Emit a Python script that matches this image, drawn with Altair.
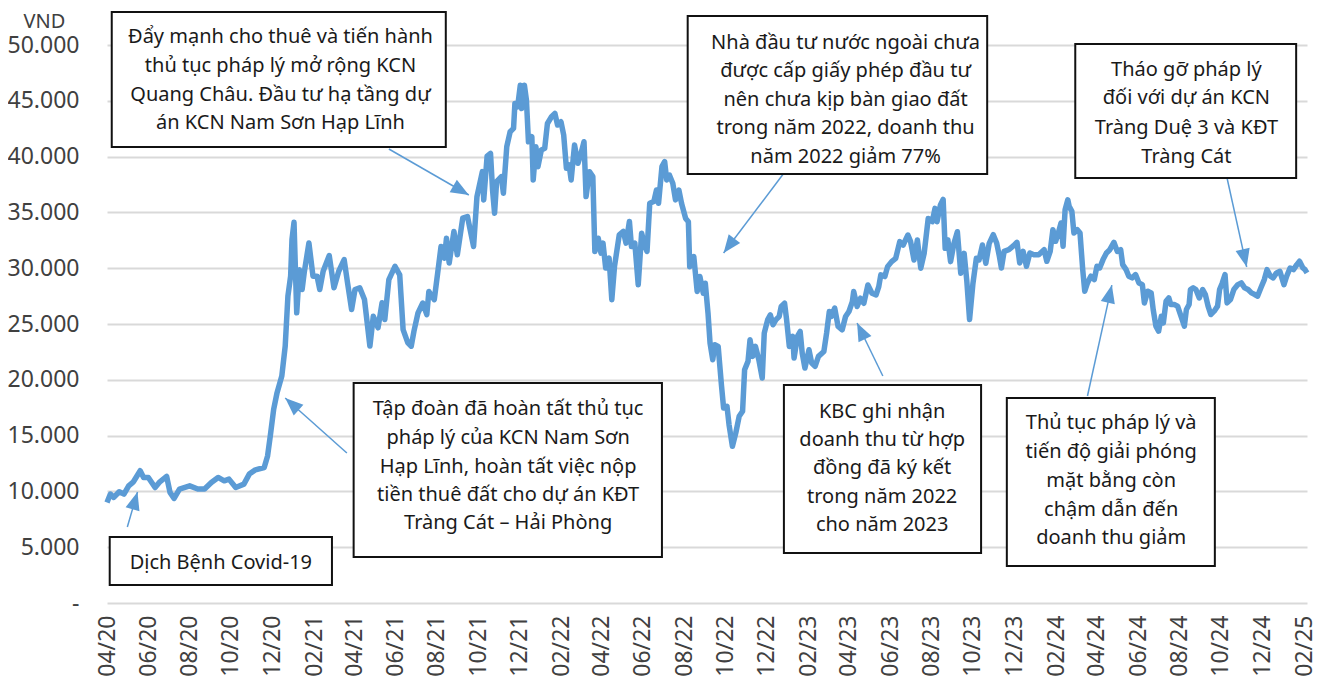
import altair as alt
import pandas as pd

FONT = "Noto Sans"
BLUE = "#5B9BD5"

# ---------------- price series (VND) ----------------
dates = [
 "2020-04-01","2020-04-06","2020-04-11","2020-04-19","2020-04-26","2020-05-03","2020-05-10","2020-05-20",
 "2020-05-25","2020-06-01","2020-06-11","2020-06-18","2020-06-28","2020-07-03","2020-07-09","2020-07-17",
 "2020-08-01","2020-08-13","2020-08-23","2020-09-02","2020-09-12","2020-09-21","2020-09-28","2020-10-08",
 "2020-10-20","2020-10-28","2020-11-06","2020-11-19","2020-11-24","2020-11-28","2020-12-03","2020-12-08",
 "2020-12-15","2020-12-20","2020-12-24","2020-12-28","2020-12-30","2021-01-02","2021-01-06","2021-01-10",
 "2021-01-14","2021-01-17","2021-01-24","2021-01-30","2021-02-05","2021-02-09","2021-02-14","2021-02-23",
 "2021-03-02","2021-03-09","2021-03-17","2021-03-22","2021-03-28","2021-04-02","2021-04-09","2021-04-16",
 "2021-04-24","2021-04-29","2021-05-06","2021-05-12","2021-05-16","2021-05-22","2021-05-31",
 "2021-06-07","2021-06-12","2021-06-19","2021-06-24","2021-06-28","2021-07-04","2021-07-11","2021-07-17",
 "2021-07-20","2021-07-28","2021-08-02","2021-08-07","2021-08-12","2021-08-15","2021-08-19","2021-08-26",
 "2021-08-31","2021-09-08","2021-09-15","2021-09-20","2021-09-24","2021-09-29","2021-10-07","2021-10-09",
 "2021-10-14","2021-10-19","2021-10-22","2021-10-25","2021-10-28","2021-11-04","2021-11-07","2021-11-12",
 "2021-11-17","2021-11-22","2021-11-24","2021-11-28","2021-12-02","2021-12-04","2021-12-08","2021-12-11",
 "2021-12-14","2021-12-19","2021-12-21","2021-12-25","2021-12-28","2022-01-02","2022-01-07","2022-01-11",
 "2022-01-17","2022-01-22","2022-01-26","2022-01-31","2022-02-04","2022-02-08","2022-02-12","2022-02-15",
 "2022-02-20","2022-02-25","2022-03-01","2022-03-06","2022-03-09","2022-03-14","2022-03-19","2022-03-22",
 "2022-03-27","2022-03-31","2022-04-03","2022-04-07","2022-04-12","2022-04-16","2022-04-20","2022-04-27",
 "2022-05-03","2022-05-07","2022-05-12","2022-05-15","2022-05-20","2022-05-25","2022-05-30","2022-06-04",
 "2022-06-07","2022-06-11","2022-06-17","2022-06-21","2022-06-24","2022-06-29","2022-07-03","2022-07-06",
 "2022-07-10","2022-07-15","2022-07-19","2022-07-24","2022-07-28",
 "2022-08-03","2022-08-07","2022-08-09","2022-08-15","2022-08-20","2022-08-24","2022-08-29","2022-09-01",
 "2022-09-05","2022-09-08","2022-09-12","2022-09-15","2022-09-20","2022-09-25","2022-09-28","2022-10-03",
 "2022-10-06","2022-10-11","2022-10-16","2022-10-21","2022-10-26","2022-10-29","2022-11-03","2022-11-06",
 "2022-11-10","2022-11-14","2022-11-19","2022-11-24","2022-11-27","2022-12-02","2022-12-06","2022-12-10",
 "2022-12-14","2022-12-19","2022-12-22","2022-12-27","2022-12-30","2023-01-03","2023-01-08","2023-01-10",
 "2023-01-15","2023-01-19","2023-01-22","2023-01-26","2023-02-01","2023-02-05","2023-02-10","2023-02-15",
 "2023-02-23","2023-02-27","2023-03-03","2023-03-06","2023-03-11","2023-03-16","2023-03-22","2023-03-27",
 "2023-04-01","2023-04-06","2023-04-08","2023-04-13","2023-04-18","2023-04-23","2023-04-29","2023-05-05",
 "2023-05-11","2023-05-15","2023-05-18","2023-05-24","2023-05-28","2023-06-03","2023-06-09","2023-06-15",
 "2023-06-20","2023-06-27","2023-07-01","2023-07-06","2023-07-11","2023-07-16","2023-07-21","2023-07-27",
 "2023-08-02","2023-08-06","2023-08-09","2023-08-14","2023-08-18","2023-08-21","2023-08-25","2023-08-29",
 "2023-09-03","2023-09-08","2023-09-13","2023-09-18","2023-09-22","2023-09-26","2023-10-01","2023-10-06",
 "2023-10-10","2023-10-15","2023-10-20","2023-10-25",
 "2023-10-31","2023-11-05","2023-11-09","2023-11-12","2023-11-16","2023-11-23","2023-11-30","2023-12-05",
 "2023-12-09","2023-12-14","2023-12-19","2023-12-24","2023-12-30","2024-01-06","2024-01-14","2024-01-18",
 "2024-01-23","2024-01-27","2024-01-31","2024-02-04","2024-02-08","2024-02-11","2024-02-14","2024-02-18",
 "2024-02-20","2024-02-24","2024-02-27","2024-03-03","2024-03-07","2024-03-11","2024-03-14","2024-03-18",
 "2024-03-23","2024-03-28","2024-04-01","2024-04-05","2024-04-10","2024-04-15","2024-04-20","2024-04-26",
 "2024-05-01","2024-05-06","2024-05-09","2024-05-14","2024-05-18","2024-05-23","2024-05-28","2024-06-02",
 "2024-06-07","2024-06-10","2024-06-15","2024-06-20","2024-06-23","2024-06-27","2024-07-01","2024-07-05",
 "2024-07-08","2024-07-12","2024-07-16","2024-07-19","2024-07-24","2024-07-29","2024-08-03","2024-08-08",
 "2024-08-11","2024-08-15","2024-08-17","2024-08-21","2024-08-25","2024-08-30","2024-09-04","2024-09-08",
 "2024-09-12","2024-09-16","2024-09-21","2024-09-26","2024-09-29","2024-10-03","2024-10-07","2024-10-10",
 "2024-10-15","2024-10-20","2024-10-26","2024-10-31","2024-11-05","2024-11-10","2024-11-15","2024-11-20",
 "2024-11-24","2024-11-29","2024-12-04","2024-12-08","2024-12-13","2024-12-17","2024-12-22","2024-12-27",
 "2025-01-02","2025-01-06","2025-01-11","2025-01-16","2025-01-21","2025-01-25","2025-01-30","2025-02-02",
 "2025-02-05",
]
prices = [
 9010,9760,9460,9970,9760,10500,10860,11850,
 11250,11250,10350,10860,11340,9910,9370,10210,
 10500,10210,10210,10800,11250,10950,11100,10350,
 10650,11550,11930,12140,13180,14970,17360,18850,
 20340,23020,27490,29280,32560,34110,26000,29870,
 28090,29580,32260,29280,29280,28090,29730,31130,
 28240,29730,30770,28680,26300,28090,28240,27190,
 23020,25700,24660,26900,25400,28980,30170,
 29410,24500,23310,23010,24350,25990,26880,25840,
 27920,27180,29560,31950,30900,32690,30460,33290,
 31200,34480,34630,33140,31950,36420,38650,36120,
 40050,40290,37010,34930,37760,38210,36720,40890,
 42230,42530,44760,44460,46400,44310,46400,45060,
 41330,41780,37910,40890,39100,40590,40740,42970,
 43570,43870,42830,43120,41930,38950,39250,37910,
 41040,39400,40140,41330,36420,38650,38210,31500,
 32690,31350,32250,30010,30900,27180,30160,32990,
 33290,32250,34180,31950,32250,28520,33140,31950,
 31500,35820,35970,37010,35820,39100,39550,37910,
 38350,37610,36120,37000,35800,
 34460,34170,30140,31040,27910,29250,27760,28650,
 25970,23290,21800,23140,22990,19410,17480,17630,
 15990,14050,15240,16730,17180,20900,21650,23590,
 22100,22990,21800,20160,24180,25370,25820,24930,
 25370,25670,26570,26860,25370,22990,23890,21950,
 23890,24330,22400,21050,22690,21500,21200,22100,
 22540,24180,26120,25670,26420,24780,24480,25670,
 26120,27010,27910,26570,27310,26860,28500,27760,
 27610,28350,29400,29250,30140,30590,30890,32380,
 32080,32970,32380,30740,32530,30000,31330,34460,
 34170,35360,34170,35660,36160,31780,32530,30590,
 32230,33270,29550,31330,28800,25400,28650,30890,
 30740,32080,30440,32230,
 33000,32260,31070,30020,31510,31660,32020,32320,
 30470,31510,30170,31360,31210,31210,31660,30620,
 31510,33450,32410,33150,34050,31960,35240,36130,
 35540,35090,33150,33450,33150,29870,27940,28680,
 29280,28980,30170,30020,30770,31360,31660,32320,
 31510,31660,30320,29870,29280,29130,29430,28680,
 28530,26890,27940,27790,26300,24810,24360,25700,
 25100,27040,27340,26750,26750,26600,25700,24810,
 26300,26750,28090,28240,28090,27340,28090,27640,
 26600,25850,26150,26600,28090,28680,29430,26890,
 27190,28090,28530,28680,28240,28090,27790,27640,
 27490,28240,28980,29870,29280,29130,29580,29720,
 28530,29280,30020,29870,30320,30620,30020,29870,
 29580,
]

# ---------------- x-axis tick months (every 2 months) ----------------
tick_months = [(2020, m) for m in (4, 6, 8, 10, 12)] + \
              [(y, m) for y in (2021, 2022, 2023, 2024) for m in (2, 4, 6, 8, 10, 12)] + [(2025, 2)]
y_ticks = [0, 5000, 10000, 15000, 20000, 25000, 30000, 35000, 40000, 45000, 50000]

# ---------------- annotation boxes (data coordinates) ----------------
box_x1 = ["2020-04-08", "2022-08-06", "2024-02-29", "2020-04-05", "2021-03-31", "2022-12-26", "2023-11-20"]
box_x2 = ["2021-08-14", "2023-10-22", "2025-01-20", "2021-02-27", "2022-06-29", "2023-10-13", "2024-09-22"]
box_y1 = [52950, 52600, 50090, 5910, 19710, 19530, 18370]
box_y2 = [40860, 38440, 38080, 1610, 4120, 4480, 3320]

# text lines
txt_dates = (["2020-12-13"] * 4 + ["2023-03-27"] * 5 + ["2024-08-11"] * 4 + ["2020-09-16"]
             + ["2021-11-14"] * 5 + ["2023-05-20"] * 5 + ["2024-04-22"] * 5)
txt_values = [50710, 48110, 45520, 43010,
              50180, 47670, 45070, 42560, 39960,
              47760, 45250, 42560, 39960,
              3580,
              17380, 14780, 12190, 9680, 7170,
              17110, 14600, 12100, 9500, 6990,
              16130, 13530, 10930, 8330, 5820]
txt_lines = [
    "Đẩy mạnh cho thuê và tiến hành", "thủ tục pháp lý mở rộng KCN",
    "Quang Châu. Đầu tư hạ tầng dự", "án KCN Nam Sơn Hạp Lĩnh",
    "Nhà đầu tư nước ngoài chưa", "được cấp giấy phép đầu tư", "nên chưa kịp bàn giao đất",
    "trong năm 2022, doanh thu", "năm 2022 giảm 77%",
    "Tháo gỡ pháp lý", "đối với dự án KCN", "Tràng Duệ 3 và KĐT", "Tràng Cát",
    "Dịch Bệnh Covid-19",
    "Tập đoàn đã hoàn tất thủ tục", "pháp lý của KCN Nam Sơn", "Hạp Lĩnh, hoàn tất việc nộp",
    "tiền thuê đất cho dự án KĐT", "Tràng Cát – Hải Phòng",
    "KBC ghi nhận", "doanh thu từ hợp", "đồng đã ký kết", "trong năm 2022", "cho năm 2023",
    "Thủ tục pháp lý và", "tiến độ giải phóng", "mặt bằng còn", "chậm dẫn đến", "doanh thu giảm",
]

# arrows: start -> tip, with head orientation in degrees
arr_x1 = ["2021-05-22", "2022-12-25", "2024-10-10", "2020-05-01", "2021-03-21", "2023-05-21", "2024-03-18"]
arr_y1 = [40680, 38440, 38080, 6810, 13440, 20340, 18550]
arr_x2 = ["2021-09-17", "2022-09-28", "2024-11-08", "2020-05-16", "2020-12-20", "2023-04-13", "2024-04-23"]
arr_y2 = [36560, 31360, 30110, 9950, 18370, 25090, 28490]
arr_angle = [120, 217, 167, 16, 312, 334, 13]

# ---------------- build tables ----------------
df = pd.DataFrame({"date": dates, "price": prices})
boxes = pd.DataFrame({"x1": box_x1, "x2": box_x2, "y1": box_y1, "y2": box_y2})
texts = pd.DataFrame({"date": txt_dates, "value": txt_values, "label": txt_lines})
arrows = pd.DataFrame({"x1": arr_x1, "y1": arr_y1, "x2": arr_x2, "y2": arr_y2, "ang": arr_angle})

x_scale = alt.Scale(type="utc",
                    domain=[alt.DateTime(year=2020, month=4, date=1, utc=True),
                            alt.DateTime(year=2025, month=2, date=5, utc=True)])
y_scale = alt.Scale(domain=[0, 50000], nice=False, zero=True)

x_axis = alt.Axis(
    values=[alt.DateTime(year=y, month=m, date=1, utc=True) for (y, m) in tick_months],
    labelExpr="utcFormat(datum.value, '%m/%y')",
    labelAngle=270, labelFontSize=23, labelFont=FONT, labelColor="#404040",
    labelPadding=12, ticks=False, domain=False, grid=False, title=None, labelOverlap=False,
    labelBound=False,
)
y_axis = alt.Axis(
    values=y_ticks,
    labelExpr="datum.value == 0 ? '-' : replace(format(datum.value, ','), ',', '.')",
    labelFontSize=23, labelFont=FONT, labelColor="#404040", labelPadding=28,
    ticks=False, domain=False, grid=True, gridColor="#D9D9D9", gridWidth=2,
    title="VND", titleAngle=0, titleFont=FONT, titleFontSize=20, titleFontWeight="normal",
    titleColor="#404040", titleX=-63, titleY=-24, titleAlign="center", titleBaseline="middle",
)

line = alt.Chart(df).mark_line(color=BLUE, strokeWidth=5.5, strokeJoin="round").encode(
    x=alt.X("date:T", scale=x_scale, axis=x_axis),
    y=alt.Y("price:Q", scale=y_scale, axis=y_axis),
)

arrow_lines = alt.Chart(arrows).mark_rule(color=BLUE, strokeWidth=1.5).encode(
    x="x1:T", y="y1:Q", x2="x2:T", y2="y2:Q",
)
arrow_heads = alt.Chart(arrows).mark_point(
    shape="M0,0 L0.4,1 L-0.4,1 Z", filled=True, color=BLUE, opacity=1, size=1296,
).encode(
    x="x2:T", y="y2:Q", angle=alt.Angle("ang:Q", scale=None),
)

box_rects = alt.Chart(boxes).mark_rect(fill="white", stroke="#111111", strokeWidth=2).encode(
    x="x1:T", x2="x2:T", y="y1:Q", y2="y2:Q",
)
box_text = alt.Chart(texts).mark_text(
    font=FONT, fontSize=20, color="#1a1a1a", align="center", baseline="middle",
).encode(
    x="date:T", y="value:Q", text="label:N",
)

chart = alt.layer(line, arrow_lines, arrow_heads, box_rects, box_text).properties(
    width=1200, height=558,
    autosize=alt.AutoSizeParams(type="none"),
    padding={"left": 99, "top": 37, "right": 11, "bottom": 75},
).configure_view(stroke=None)

chart.save("out.html", embed_options={"renderer": "svg", "actions": False})
